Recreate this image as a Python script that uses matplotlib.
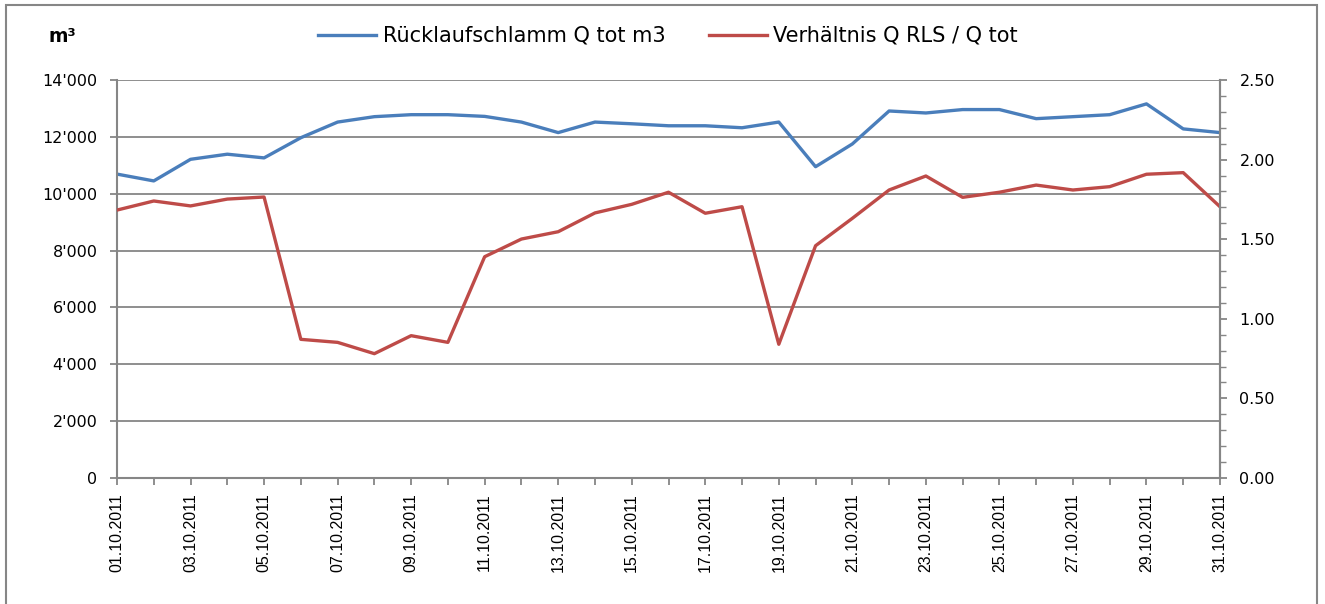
import matplotlib
matplotlib.use("Agg")
import matplotlib.pyplot as plt
from matplotlib.ticker import FuncFormatter, MultipleLocator
from matplotlib.patches import Rectangle

# ---- data ----
dates = [f"{d:02d}.10.2011" for d in range(1, 32)]
ruecklauf_m3 = [10690, 10450, 11210, 11390, 11260, 11970, 12520, 12710, 12780, 12780,
                12720, 12520, 12150, 12520, 12460, 12390, 12390, 12320, 12520, 10950,
                11750, 12910, 12840, 12960, 12960, 12640, 12710, 12780, 13160, 12280,
                12150]
verhaeltnis = [1.683, 1.740, 1.709, 1.752, 1.765, 0.871, 0.852, 0.781, 0.894, 0.852,
               1.390, 1.501, 1.547, 1.665, 1.719, 1.795, 1.663, 1.704, 0.840, 1.459,
               1.631, 1.809, 1.897, 1.763, 1.795, 1.840, 1.809, 1.830, 1.908, 1.918,
               1.704]
label_blue = "Rücklaufschlamm Q tot m3"
label_red = "Verhältnis Q RLS / Q tot"

BLUE = "#4a7ebb"
RED = "#be4b48"
GRID = "#868686"

plt.rcParams['font.family'] = ['DejaVu Sans']

W, H = 1325, 604
fig = plt.figure(figsize=(W / 100, H / 100), dpi=100)
ax = fig.add_axes([117 / W, 1 - 478 / H, (1220 - 117) / W, (478 - 80) / H])
ax2 = ax.twinx()

x = list(range(len(dates)))
l1, = ax.plot(x, ruecklauf_m3, color=BLUE, lw=2.4, label=label_blue, solid_joinstyle='round')
l2, = ax2.plot(x, verhaeltnis, color=RED, lw=2.4, label=label_red, solid_joinstyle='round')

ax.set_xlim(0, len(dates) - 1)
ax.set_ylim(0, 14000)
ax2.set_ylim(0, 2.5)

ax.yaxis.set_major_locator(MultipleLocator(2000))
ax.yaxis.set_major_formatter(FuncFormatter(lambda v, p: f"{int(v):,}".replace(",", "'")))
ax2.yaxis.set_major_locator(MultipleLocator(0.5))
ax2.yaxis.set_minor_locator(MultipleLocator(0.1))
ax2.yaxis.set_major_formatter(FuncFormatter(lambda v, p: f"{v:.2f}"))

ax.set_xticks(x)
ax.set_xticklabels([d if i % 2 == 0 else "" for i, d in enumerate(dates)],
                   rotation=90, fontfamily='Liberation Sans', fontsize=11.5)

ax.grid(axis='y', color=GRID, lw=1.3)
ax.set_axisbelow(True)

for a in (ax, ax2):
    for s in a.spines.values():
        s.set_color(GRID)
        s.set_linewidth(1.5)
    a.spines['top'].set_visible(False)
ax.tick_params(axis='both', color=GRID, width=1.3, length=5, direction='out', labelsize=11.5)
ax.tick_params(axis='y', pad=9)
ax.tick_params(axis='x', pad=6)
ax2.tick_params(axis='y', which='major', color=GRID, width=1.3, length=5, labelsize=11.5, pad=9)
ax2.tick_params(axis='y', which='minor', color=GRID, width=1.0, length=4)
ax2.spines['left'].set_visible(False)
ax2.spines['bottom'].set_visible(False)

fig.text(49 / W, 1 - 36 / H, "m³", fontsize=13.5, fontweight='bold', va='center', ha='left')

fig.legend(handles=[l1, l2], loc='center', bbox_to_anchor=(668 / W, 1 - 36 / H), ncol=2,
           frameon=False, fontsize=15, handlelength=2.8, handletextpad=0.3,
           columnspacing=2.1)

fig.patches.append(Rectangle((6 / W, -0.05), (1317 - 6) / W, 1.05 - 5 / H,
                             transform=fig.transFigure, fill=False, edgecolor=GRID, lw=1.5))

fig.savefig("out.png", dpi=100, facecolor='white')
